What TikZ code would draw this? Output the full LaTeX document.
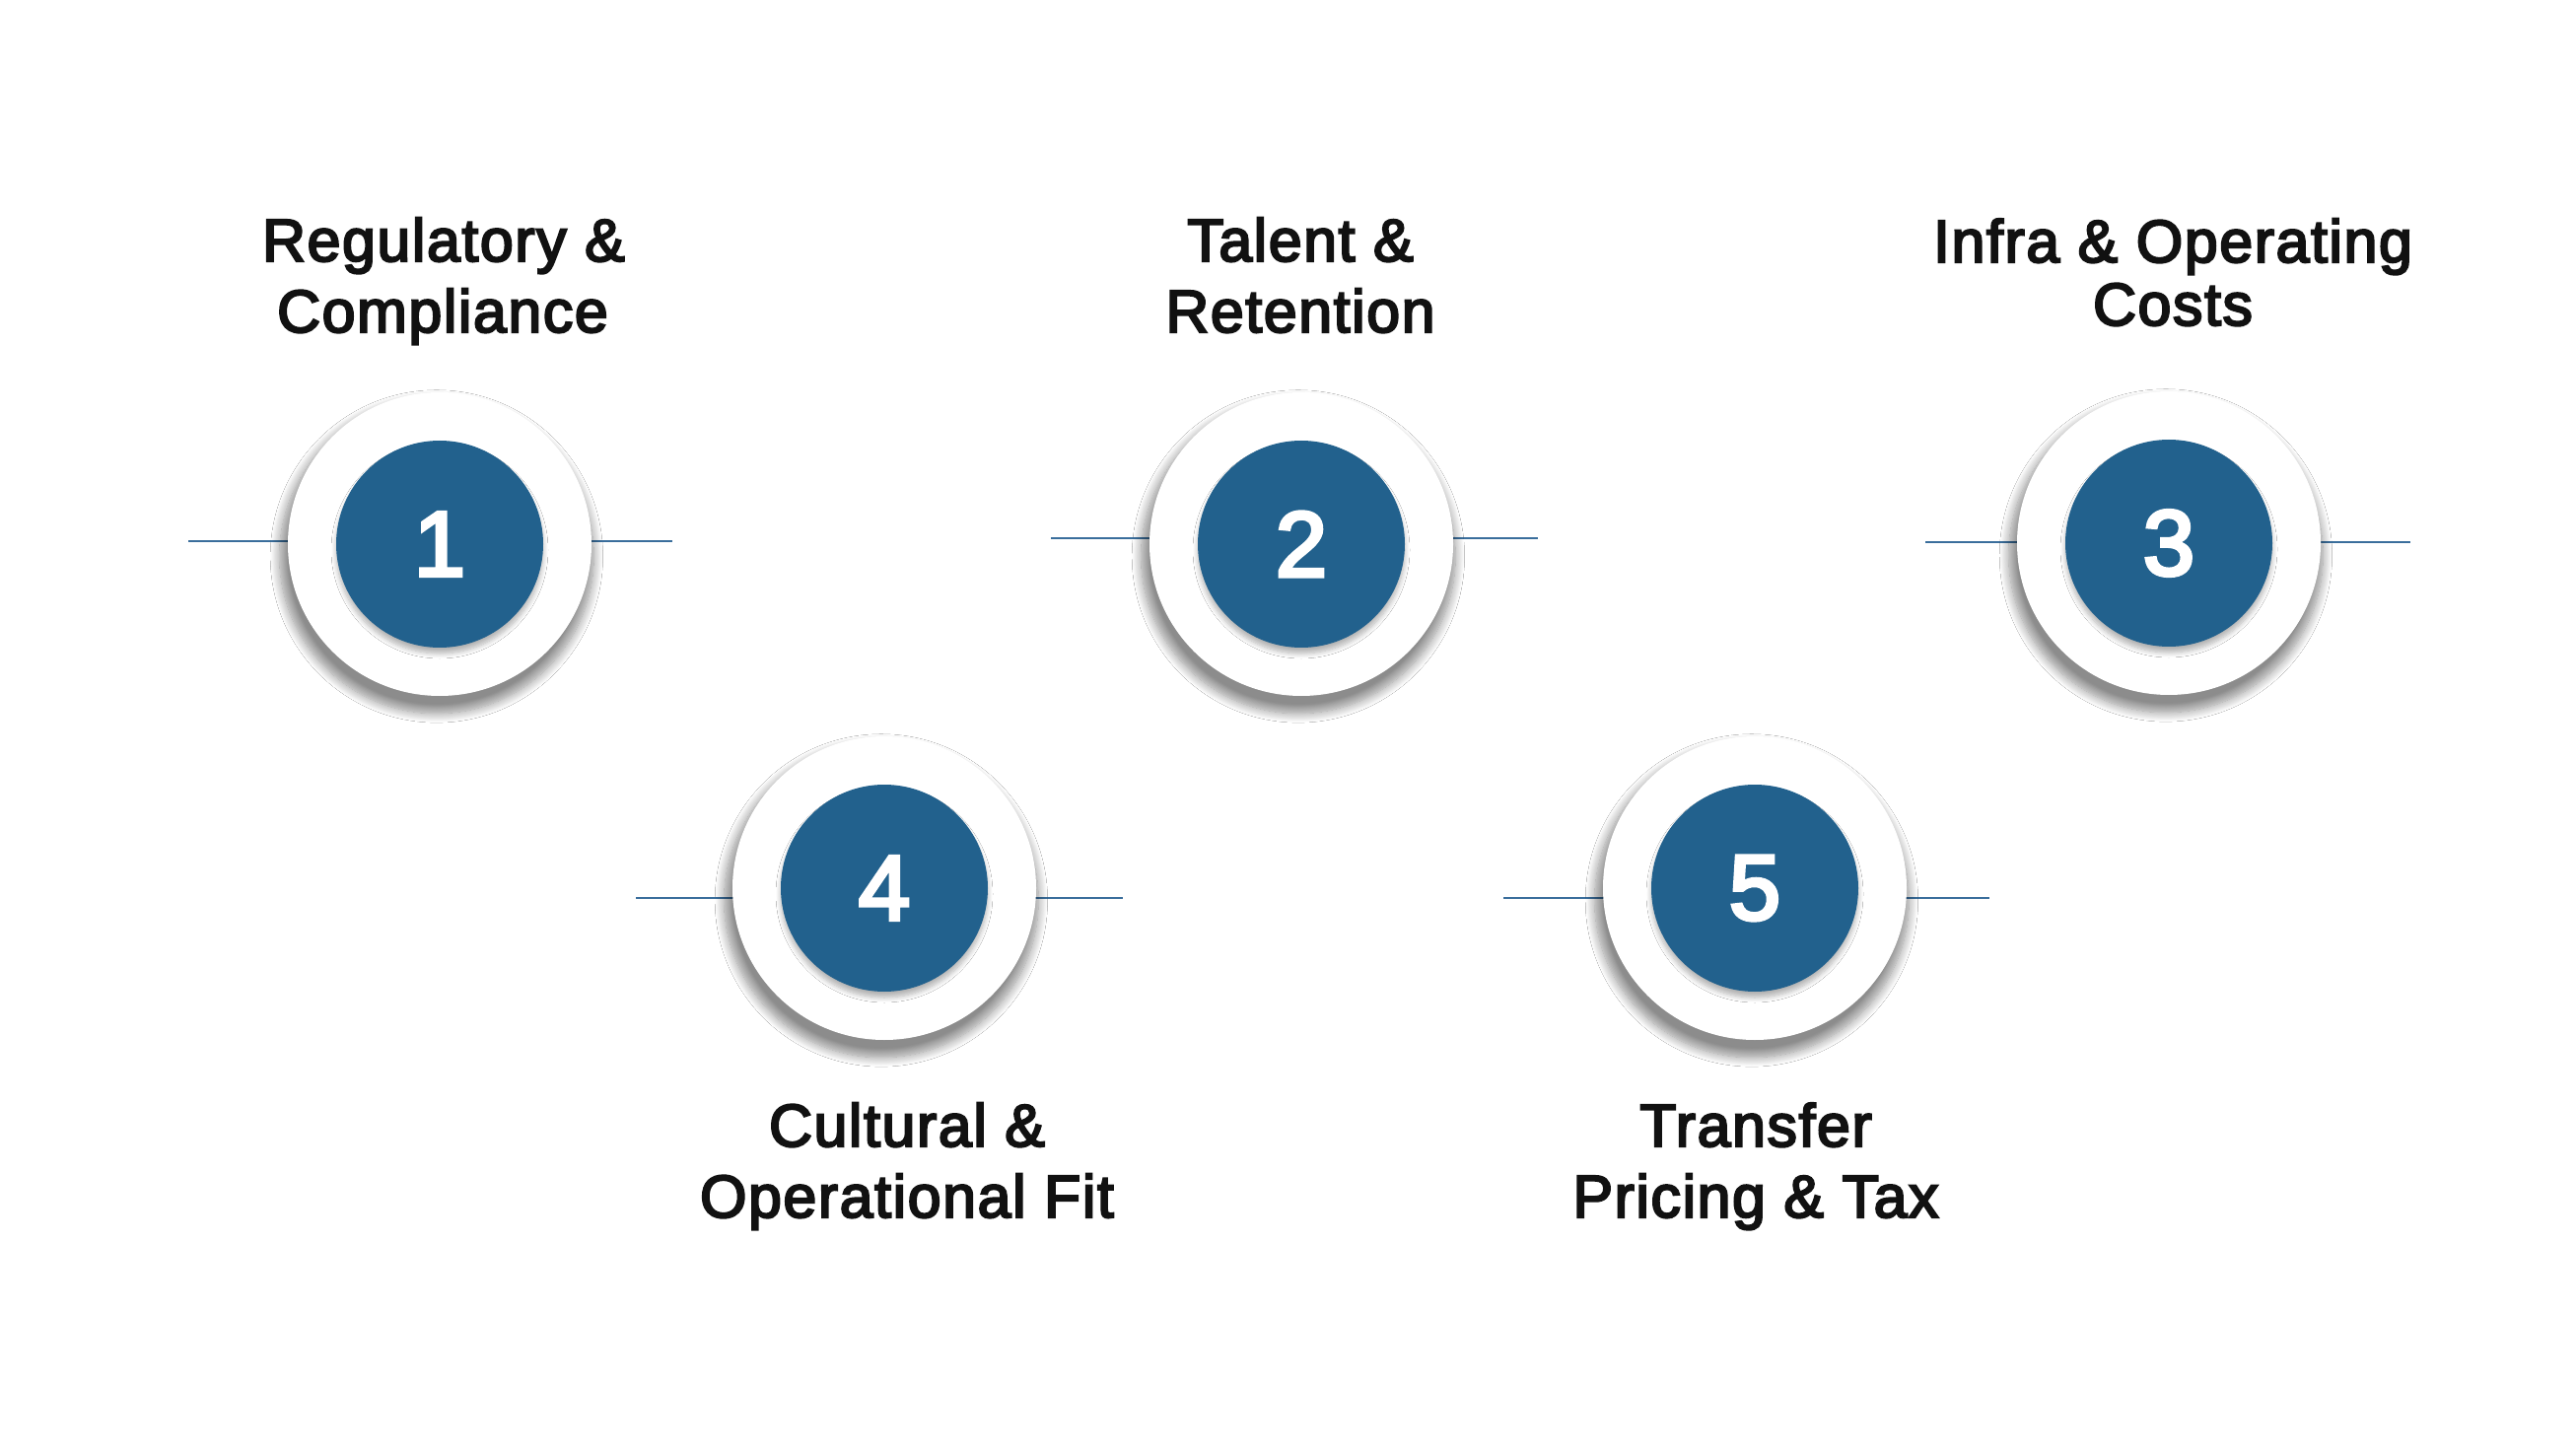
\documentclass[tikz,border=0pt]{standalone}
\usepackage{fontspec}
\setmainfont{Liberation Sans}
\newfontfamily\medfont{Liberation Sans}[FakeBold=3.5, LetterSpace=2.5]
\newfontfamily\digfont{Liberation Sans}[FakeBold=4]
\usetikzlibrary{shadows.blur}
\definecolor{numblue}{HTML}{22618D}
\definecolor{lineblue}{HTML}{3A6E9C}
\definecolor{labtext}{HTML}{111111}
\tikzset{
  outerring/.style={circle, fill=white, minimum size=154pt, inner sep=0pt,
    blur shadow={shadow xshift=-1.5pt, shadow yshift=-6pt, shadow scale=1.035,
      shadow blur radius=4.5pt, shadow opacity=45, shadow blur steps=14}},
  numdisc/.style={circle, fill=numblue, minimum size=105pt, inner sep=0pt,
    text=white, font=\digfont\fontsize{47}{47}\selectfont,
    blur shadow={shadow xshift=0pt, shadow yshift=-3pt, shadow blur radius=2.5pt,
      shadow opacity=30, shadow blur steps=8}},
  lab/.style={anchor=base, inner sep=0pt, text=labtext,
    font=\medfont\fontsize{30.5}{30.5}\selectfont},
  link/.style={draw=lineblue, line width=1.1pt}
}
\begin{document}
\begin{tikzpicture}[x=0.5pt,y=-0.5pt]
\useasboundingbox (0,0) rectangle (2613,1470);
\fill[white] (0,0) rectangle (2613,1470);

% connector stubs
\coordinate (a1) at (191,549);  \coordinate (b1) at (682,549);
\coordinate (a2) at (1066,546); \coordinate (b2) at (1560,546);
\coordinate (a3) at (1953,550); \coordinate (b3) at (2445,550);
\coordinate (a4) at (645,911);  \coordinate (b4) at (1139,911);
\coordinate (a5) at (1525,911); \coordinate (b5) at (2018,911);
\foreach \i in {1,...,5} { \draw[link] (a\i) -- (b\i); }

% rings and discs
\node[outerring] (r1) at (446,552) {};
\node[outerring] (r2) at (1320,552) {};
\node[outerring] (r3) at (2200,551) {};
\node[outerring] (r4) at (897,901) {};
\node[outerring] (r5) at (1780,901) {};

\node[numdisc] (n1) at (r1.center) {1};
\node[numdisc] (n2) at (r2.center) {2};
\node[numdisc] (n3) at (r3.center) {3};
\node[numdisc] (n4) at (r4.center) {4};
\node[numdisc] (n5) at (r5.center) {5};

% labels
\node[lab] (t1a) at (450,265) {Regulatory \&};
\node[lab] (t1b) at (449,337) {Compliance};
\node[lab] (t2a) at (1319,265) {Talent \&};
\node[lab] (t2b) at (1319,337) {Retention};
\node[lab] (t3a) at (2204,266) {Infra \& Operating};
\node[lab] (t3b) at (2204,330) {Costs};
\node[lab] (t4a) at (920,1163) {Cultural \&};
\node[lab] (t4b) at (920,1235) {Operational Fit};
\node[lab] (t5a) at (1781,1163) {Transfer};
\node[lab] (t5b) at (1781,1235) {Pricing \& Tax};
\end{tikzpicture}
\end{document}
